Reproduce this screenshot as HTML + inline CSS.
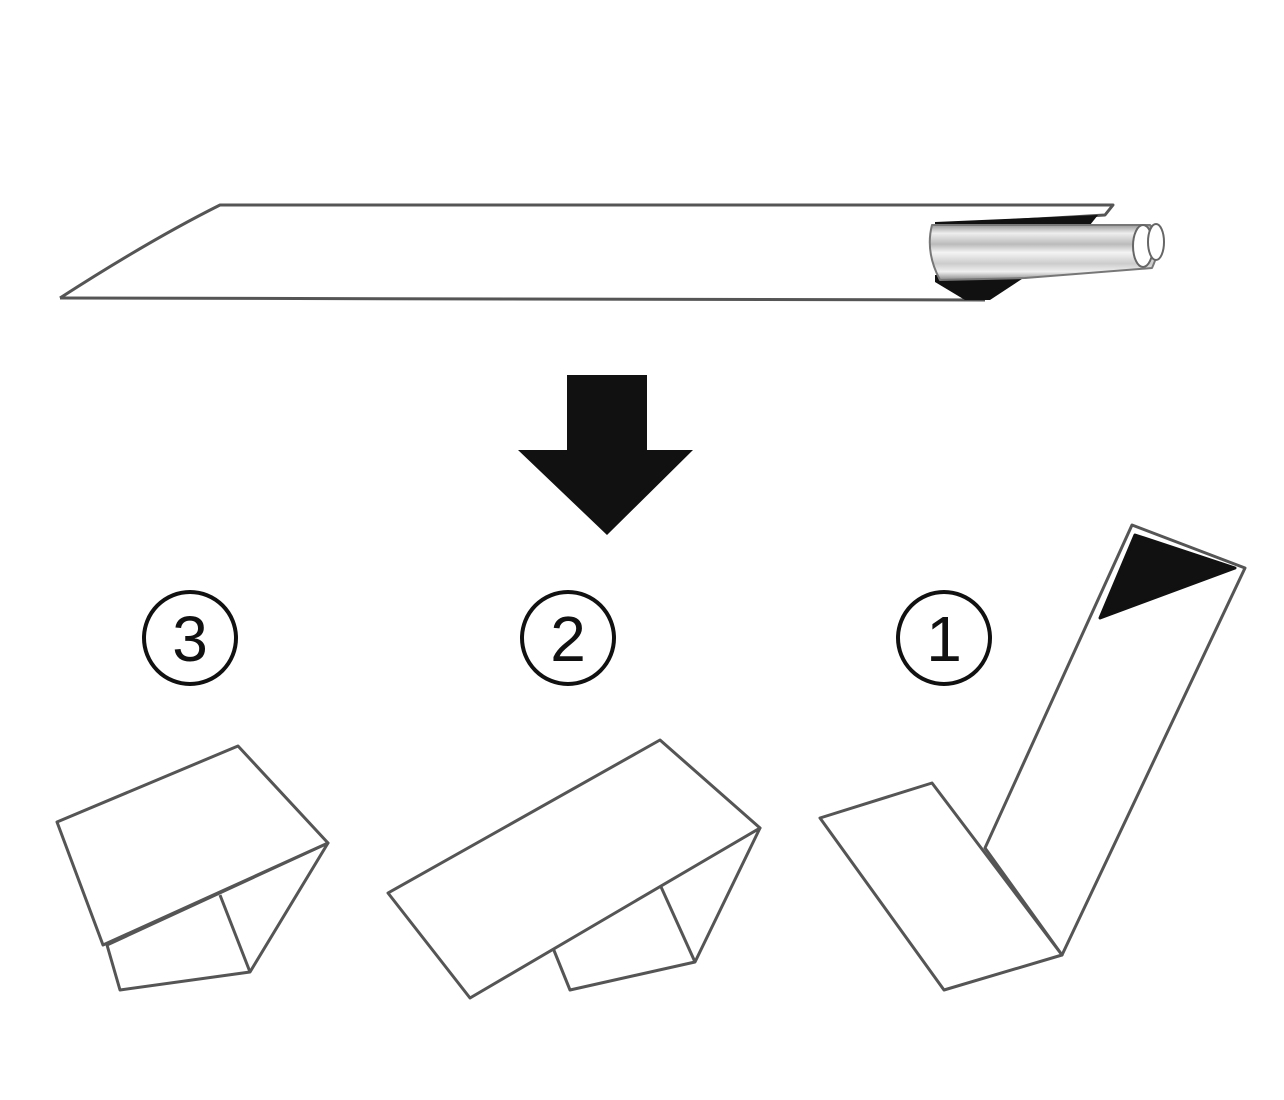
<!DOCTYPE html>
<html><head><meta charset="utf-8"><style>html,body{margin:0;padding:0;background:#fff}svg{display:block}</style></head>
<body>
<svg width="1284" height="1100" viewBox="0 0 1284 1100" xmlns="http://www.w3.org/2000/svg">
<defs>
<linearGradient id="tube" x1="0" y1="0" x2="0" y2="1">
<stop offset="0" stop-color="#999"/><stop offset="0.15" stop-color="#eee"/><stop offset="0.35" stop-color="#bbb"/><stop offset="0.5" stop-color="#f4f4f4"/><stop offset="0.7" stop-color="#ccc"/><stop offset="0.85" stop-color="#f0f0f0"/><stop offset="1" stop-color="#888"/>
</linearGradient>
</defs>
<g fill="none" stroke="#555" stroke-width="3" stroke-linejoin="round">
<!-- top sleeve -->
<path d="M60,298 Q150,240 220,205 L1113,205 L1105,215 L985,222" fill="#fff"/>
<path d="M60,298 L985,300" />
<path d="M935,222 L1098,215 L1086,230 L935,232 Z" fill="#111" stroke="none"/>
<path d="M935,282 L965,300 L990,300 L1028,275 L935,275 Z" fill="#111" stroke="none"/>
<path d="M932,225 L1150,225 Q1165,240 1152,268 L1025,278 L940,280 Q925,252 932,225 Z" fill="url(#tube)" stroke="#777" stroke-width="2"/>
<ellipse cx="1143" cy="246" rx="10" ry="21" fill="#fff" stroke="#666" stroke-width="2"/>
<ellipse cx="1156" cy="242" rx="8" ry="18" fill="#fff" stroke="#666" stroke-width="2"/>
<!-- shape 3 -->
<path d="M107,945 L120,990 L250,972 L328,843 Z" fill="#fff"/>
<path d="M220,895 L250,972"/>
<path d="M57,822 L238,746 L328,843 L103,945 Z" fill="#fff"/>
<!-- shape 2 -->
<path d="M553,948 L570,990 L695,962 L760,828 Z" fill="#fff"/>
<path d="M657,878 L695,962"/>
<path d="M388,893 L660,740 L760,828 L470,998 Z" fill="#fff"/>
<!-- shape 1 -->
<path d="M985,848 L1132,525 L1245,568 L1062,955 Z" fill="#fff"/>
<path d="M1100,618 L1135,535 L1235,568 Z" fill="#111" stroke="#111"/>
<path d="M820,818 L932,783 L1062,955 L944,990 Z" fill="#fff"/>
</g>
<!-- arrow -->
<path d="M567,375 L647,375 L647,450 L693,450 L607,535 L518,450 L567,450 Z" fill="#111"/>
<!-- numbers -->
<g fill="none" stroke="#111" stroke-width="4">
<circle cx="190" cy="638" r="46"/><circle cx="568" cy="638" r="46"/><circle cx="944" cy="638" r="46"/>
</g>
<g font-family="Liberation Sans, sans-serif" font-size="64" text-anchor="middle" fill="#111">
<text x="190" y="661">3</text><text x="568" y="661">2</text><text x="944" y="661">1</text>
</g>
</svg>
</body></html>
